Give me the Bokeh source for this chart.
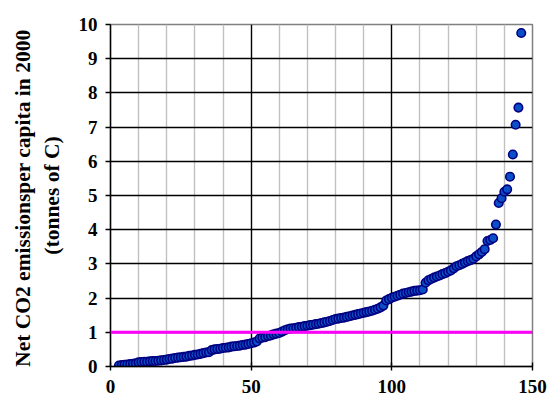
from bokeh.plotting import figure
from bokeh.models import Range1d, FixedTicker, Grid, Span, ColumnDataSource
from bokeh.embed import file_html
from bokeh.resources import INLINE

rank = list(range(3, 147))
emissions = [
    0.03, 0.04, 0.05, 0.06, 0.07, 0.08, 0.09, 0.12, 0.13, 0.14,
    0.14, 0.15, 0.16, 0.16, 0.17, 0.18, 0.19, 0.20, 0.22, 0.23,
    0.25, 0.26, 0.27, 0.28, 0.29, 0.31, 0.32, 0.34, 0.35, 0.37,
    0.39, 0.41, 0.42, 0.48, 0.50, 0.51, 0.52, 0.54, 0.55, 0.56,
    0.58, 0.59, 0.60, 0.61, 0.63, 0.64, 0.66, 0.68, 0.70, 0.73,
    0.82, 0.84, 0.86, 0.89, 0.91, 0.94, 0.96, 0.98, 1.02, 1.06,
    1.09, 1.11, 1.12, 1.13, 1.15, 1.16, 1.18, 1.19, 1.21, 1.22,
    1.24, 1.25, 1.27, 1.29, 1.31, 1.33, 1.36, 1.39, 1.40, 1.42,
    1.43, 1.45, 1.47, 1.49, 1.51, 1.53, 1.55, 1.57, 1.59, 1.61,
    1.63, 1.66, 1.69, 1.73, 1.78, 1.93, 1.97, 2.01, 2.04, 2.07,
    2.10, 2.13, 2.15, 2.17, 2.19, 2.21, 2.22, 2.23, 2.25, 2.45,
    2.52, 2.56, 2.60, 2.63, 2.66, 2.70, 2.73, 2.77, 2.81, 2.87,
    2.93, 2.96, 3.00, 3.04, 3.08, 3.11, 3.15, 3.22, 3.28, 3.35,
    3.43, 3.67, 3.70, 3.75, 4.15, 4.78, 4.92, 5.11, 5.18, 5.55,
    6.20, 7.07, 7.57, 9.75,
]
x_ticks = [0, 50, 100, 150]
y_ticks = list(range(0, 11))
minor_x_grid = [10, 20, 30, 40, 60, 70, 80, 90, 110, 120, 130, 140]
major_x_grid = [50, 100]
threshold = 1.0
y_title = "Net CO2 emissionsper capita  in 2000\n(tonnes of C)"

FONT = "Liberation Serif"

p = figure(width=551, height=403, output_backend="svg", toolbar_location=None,
           x_range=Range1d(0, 150), y_range=Range1d(0, 10),
           min_border_left=110, min_border_right=19, min_border_top=24,
           min_border_bottom=37)
p.outline_line_color = "#808080"
p.outline_line_width = 1.5
p.background_fill_color = "white"
p.border_fill_color = "white"

p.xgrid.visible = False
p.ygrid.visible = False

g1 = Grid(dimension=0, ticker=FixedTicker(ticks=minor_x_grid),
          grid_line_color="#c0c0c0", grid_line_width=1.4)
g2 = Grid(dimension=0, ticker=FixedTicker(ticks=major_x_grid),
          grid_line_color="black", grid_line_width=1.4)
g3 = Grid(dimension=1, ticker=FixedTicker(ticks=y_ticks[1:-1]),
          grid_line_color="black", grid_line_width=1.4)
for g in (g1, g3, g2):
    p.add_layout(g, "center")

for ax in (p.xaxis[0], p.yaxis[0]):
    ax.axis_line_color = "black"
    ax.axis_line_width = 1.4
    ax.major_tick_line_color = "black"
    ax.major_tick_line_width = 1.4
    ax.minor_tick_line_color = None
    ax.major_label_text_font = FONT
    ax.major_label_text_font_style = "bold"
    ax.major_label_text_font_size = "19px"
    ax.major_label_text_color = "black"

p.xaxis.ticker = FixedTicker(ticks=x_ticks)
p.xaxis.major_tick_in = 4
p.xaxis.major_tick_out = 4
p.xaxis.major_label_standoff = 9

p.yaxis.ticker = FixedTicker(ticks=y_ticks)
p.yaxis.major_tick_in = 0
p.yaxis.major_tick_out = 5
p.yaxis.major_label_standoff = 8
p.yaxis.axis_label = y_title
p.yaxis.axis_label_text_font = FONT
p.yaxis.axis_label_text_font_style = "bold"
p.yaxis.axis_label_text_font_size = "21.5px"
p.yaxis.axis_label_text_color = "black"
p.yaxis.axis_label_standoff = 12

src = ColumnDataSource(dict(x=rank, y=emissions))
p.scatter("x", "y", source=src, size=8.5, fill_color="#0a4fc8",
          line_color="#000080", line_width=1.6)

p.add_layout(Span(location=threshold, dimension="width",
                  line_color="#ff00ff", line_width=3))

open("out.html", "w").write(file_html(p, INLINE))
